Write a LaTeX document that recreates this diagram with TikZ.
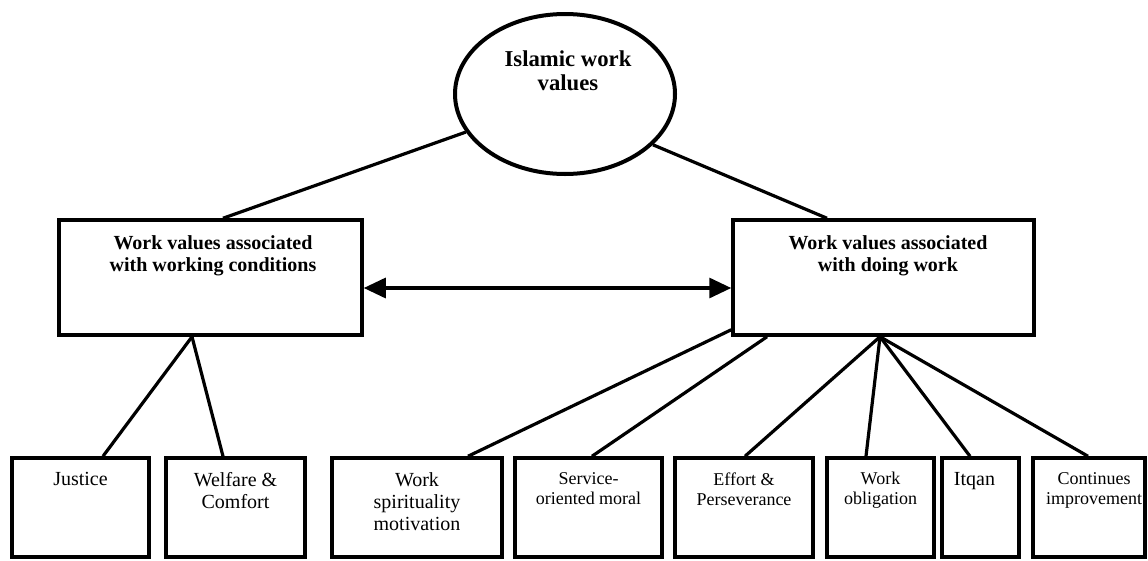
\documentclass[tikz,border=0pt]{standalone}
\usepackage{fontspec}
\setmainfont{Liberation Serif}
\usetikzlibrary{shapes.geometric,arrows.meta}

\tikzset{
  rootnode/.style={draw, ellipse, line width=4pt, minimum width=220pt, minimum height=160pt, inner sep=0pt},
  midbox/.style={draw, rectangle, line width=3.5pt, minimum height=115pt, inner sep=0pt},
  leafbox/.style={draw, rectangle, line width=3.5pt, minimum height=99pt, inner sep=0pt},
  roottext/.style={anchor=north, align=center, inner sep=0pt, font=\bfseries\fontsize{22.7}{24}\selectfont},
  midtext/.style={anchor=north, align=center, inner sep=0pt, font=\bfseries\fontsize{20}{22}\selectfont},
  leaftext/.style={anchor=north, align=center, inner sep=0pt, font=\fontsize{20}{22}\selectfont},
  smalltext/.style={leaftext, font=\fontsize{18}{20}\selectfont},
  link/.style={line width=3.2pt},
  biarrow/.style={line width=3.2pt, {Triangle[length=22pt,width=20pt]}-{Triangle[length=22pt,width=20pt]}}
}

\begin{document}
\begin{tikzpicture}[x=1pt, y=-1pt]
    % Fix the page to the reference size
    \useasboundingbox (0,0) rectangle (1148,560);

    % Top node
    \node[rootnode] (root) at (565,94) {};
    \node[roottext] (root-text) at ([xshift=3pt,yshift=43pt]root.center) {Islamic work\\values};

    % Middle boxes
    \node[midbox, minimum width=303pt] (conditions) at (210.5,277.5) {};
    \node[midbox, minimum width=301pt] (doing) at (883.5,277.5) {};
    \node[midtext] (conditions-text) at ([xshift=2.5pt,yshift=-17pt]conditions.north) {Work values associated\\with working conditions};
    \node[midtext] (doing-text) at ([xshift=4.5pt,yshift=-17pt]doing.north) {Work values associated\\with doing work};

    % Leaf boxes (name / centre x / width)
    \def\leafy{507.5}
    \foreach \nm/\cx/\bw in {justice/80.5/137, welfare/235.5/139, spirituality/417/170,
                             service/588.5/147, effort/744/138, obligation/880.5/107,
                             itqan/980.5/77, continues/1089/112}
        \node[leafbox, minimum width=\bw pt] (\nm) at (\cx,\leafy) {};

    % Leaf texts
    \node[leaftext] (justice-text) at ([yshift=-16pt]justice.north) {Justice};
    \node[leaftext] (welfare-text) at ([yshift=-16pt]welfare.north) {Welfare \&\\Comfort};
    \node[leaftext] (spirituality-text) at ([yshift=-16pt]spirituality.north) {Work\\spirituality\\motivation};
    \node[smalltext] (service-text) at ([yshift=-16pt]service.north) {Service-\\oriented moral};
    \node[smalltext] (effort-text) at ([yshift=-16pt]effort.north) {Effort \&\\Perseverance};
    \node[smalltext] (obligation-text) at ([yshift=-16pt]obligation.north) {Work\\obligation};
    \node[leaftext] (itqan-text) at ([xshift=-6pt,yshift=-16pt]itqan.north) {Itqan};
    \node[smalltext] (continues-text) at ([xshift=5pt,yshift=-16pt]continues.north) {Continues\\improvement};

    % Connectors from the top node
    \draw[link] (root.201) -- ([xshift=12.5pt]conditions.north);
    \draw[link] (root.330) -- ([xshift=-56.5pt]doing.north);

    % Two-way arrow between the middle boxes
    \draw[biarrow] ([yshift=-10.5pt]conditions.east) -- ([yshift=-10.5pt]doing.west);

    % Connectors to the leaves
    \draw[link] ([xshift=-18.5pt]conditions.south) -- ([xshift=22.5pt]justice.north);
    \draw[link] ([xshift=-18.5pt]conditions.south) -- ([xshift=-12.5pt]welfare.north);
    \draw[link] ([yshift=7pt]doing.south west) -- ([xshift=51pt]spirituality.north);
    \draw[link] ([xshift=-116.5pt]doing.south) -- ([xshift=3.5pt]service.north);
    \foreach \nm/\dx in {effort/1, obligation/-14.5, itqan/-10.5, continues/-1}
        \draw[link] ([xshift=-3.5pt]doing.south) -- ([xshift=\dx pt]\nm.north);

\end{tikzpicture}
\end{document}
